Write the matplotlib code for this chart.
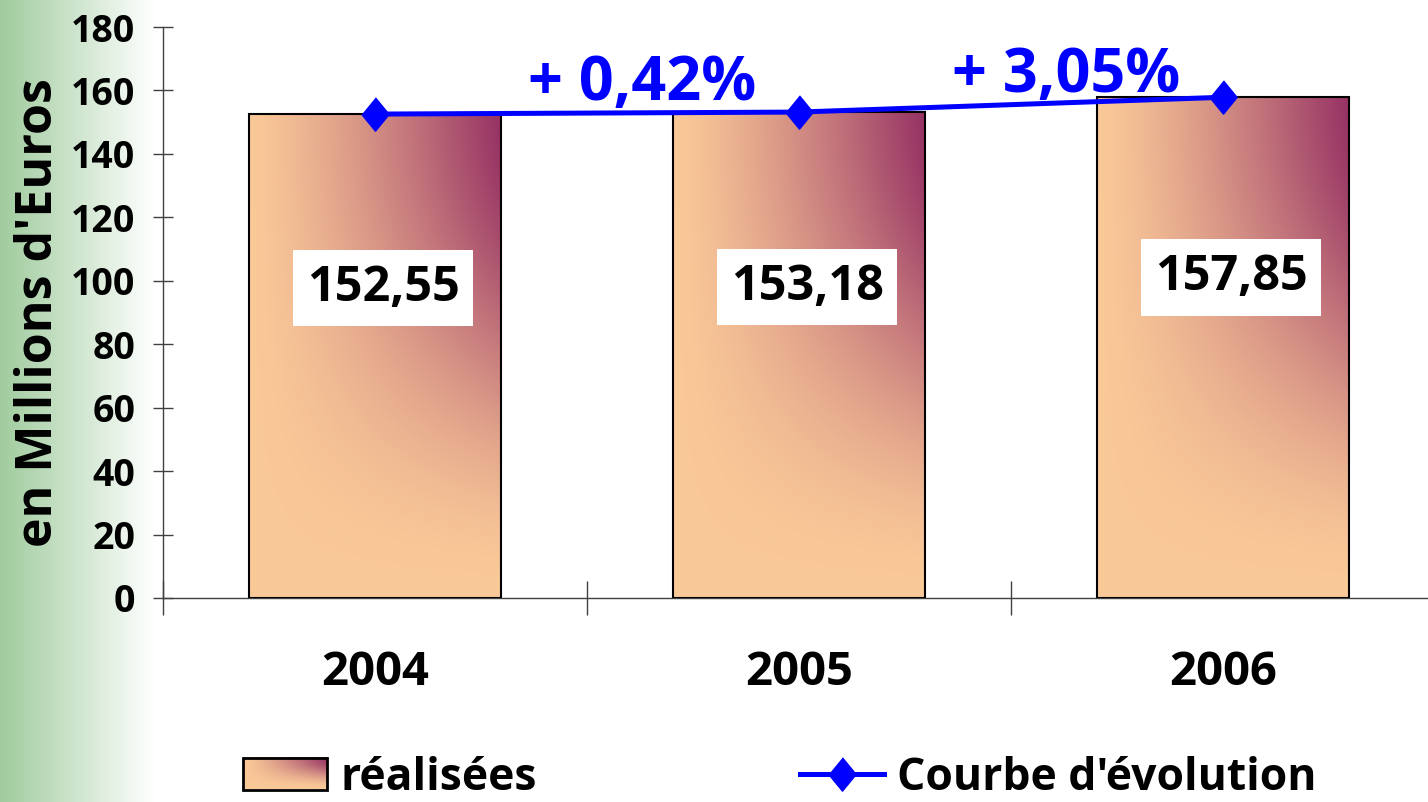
import numpy as np
import matplotlib
matplotlib.use('Agg')
import matplotlib.pyplot as plt
from matplotlib.patches import Rectangle, Patch
from matplotlib.lines import Line2D
from matplotlib.legend_handler import HandlerBase
from matplotlib.image import BboxImage
from matplotlib.transforms import Bbox, TransformedBbox

# donnees
annees = ['2004', '2005', '2006']
realisees = [152.55, 153.18, 157.85]
etiquettes = ['152,55', '153,18', '157,85']
evolutions = ['+ 0,42%', '+ 3,05%']

plt.rcParams['font.family'] = ['Open Sans', 'DejaVu Sans']
plt.rcParams['font.weight'] = 'bold'
plt.rcParams['axes.labelweight'] = 'bold'

peche = np.array([250, 201, 152]) / 255
prune = np.array([150, 50, 100]) / 255
bleu = '#0000FF'


def degrade(nx=160, ny=240):
    xn = np.linspace(0, 1, nx)[None, :]
    yn = np.linspace(1, 0, ny)[:, None]
    s = 3 * yn**2 - 2 * yn**3
    t = (xn**1.3) * s
    return peche + t[..., None] * (prune - peche)


img = degrade()


class HandlerDegrade(HandlerBase):
    def create_artists(self, legend, orig_handle, xdescent, ydescent,
                       width, height, fontsize, trans):
        bb = TransformedBbox(Bbox.from_bounds(-xdescent, -ydescent, width, height), trans)
        im = BboxImage(bb, interpolation='bilinear')
        im.set_data(img)
        cadre = Rectangle((-xdescent, -ydescent), width, height, fill=False,
                          ec='black', lw=2, transform=trans)
        return [im, cadre]


fig = plt.figure(figsize=(14.28, 8.02), dpi=100)

# bande verte a gauche
bg = fig.add_axes([0, 0, 155 / 1428, 1], zorder=-1)
vert = np.array([160, 204, 158]) / 255
g = np.linspace(0, 1, 200)[None, :, None]
bg.imshow(vert + g * (1 - vert), aspect='auto', extent=[0, 1, 0, 1])
bg.axis('off')

ax = fig.add_axes([163 / 1428, 1 - 598 / 802, 1 - 163 / 1428, 571 / 802])
ax.patch.set_alpha(0)

x = np.arange(len(annees))
larg = 0.595
barres = ax.bar(x, realisees, larg, facecolor='none', edgecolor='black',
                linewidth=1.5, zorder=3)
for b in barres:
    im = ax.imshow(img, extent=[b.get_x(), b.get_x() + b.get_width(), 0, b.get_height()],
                   aspect='auto', interpolation='bilinear', zorder=2)
    im.set_clip_path(b)

losange = [(0, 1), (0.82, 0), (0, -1), (-0.82, 0)]
ax.plot(x, realisees, color=bleu, lw=3.6, marker=losange, ms=24, zorder=5)

for i, v in enumerate(realisees):
    ax.text(x[i] + 0.02, 0.64 * v, etiquettes[i], ha='center', va='center',
            fontsize=35, zorder=4,
            bbox=dict(boxstyle='square,pad=0.28', facecolor='white', edgecolor='none'))

for j, lab in enumerate(evolutions):
    xm = (x[j] + x[j + 1]) / 2 + 0.13
    ym = (realisees[j] + realisees[j + 1]) / 2 + 4
    ax.text(xm, ym, lab, color=bleu, fontsize=44, ha='center', va='baseline', zorder=6)

ax.set_xlim(-0.5, 2.484)
ax.set_ylim(0, 180)
ax.set_yticks(range(0, 181, 20))
ax.set_xticks([-0.5, 0.5, 1.5])
ax.set_xticklabels([])
ax.set_xticks(x, minor=True)
ax.set_xticklabels(annees, minor=True)
ax.tick_params(axis='x', which='major', direction='inout', length=24, width=1, color='#404040')
ax.tick_params(axis='x', which='minor', length=0, pad=37, labelsize=34)
ax.tick_params(axis='y', direction='inout', length=15, width=1, color='#404040',
               labelsize=27, pad=12.5)
for s in ['top', 'right']:
    ax.spines[s].set_visible(False)
for s in ['left', 'bottom']:
    ax.spines[s].set_color('#404040')
    ax.spines[s].set_linewidth(1)

ax.set_ylabel("en Millions d'Euros", fontsize=36)
ax.yaxis.set_label_coords(-0.0783, 0.5)

h1 = Patch(facecolor=peche)
h2 = Line2D([], [], color=bleu, lw=3.6, marker=losange, ms=24)
fig.legend([h1, h2], ['réalisées', "Courbe d'évolution"], loc='center left',
           bbox_to_anchor=(243 / 1428, 1 - 778 / 802), ncol=2, frameon=False,
           fontsize=32, handlelength=1.9, handleheight=0.7, handletextpad=0.3,
           columnspacing=5.9, borderpad=0, borderaxespad=0,
           handler_map={h1: HandlerDegrade()})

fig.savefig('out.png', dpi=100)
